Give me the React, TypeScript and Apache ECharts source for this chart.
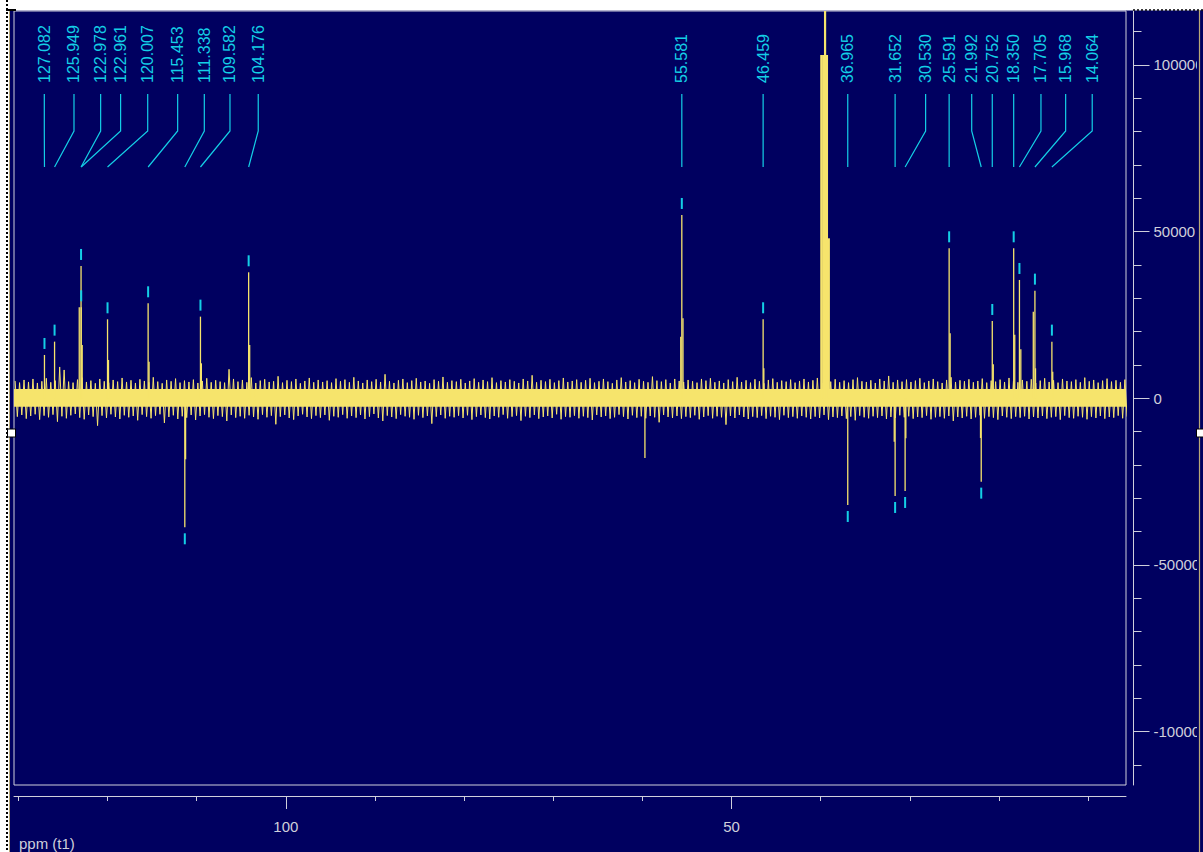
import React, { useEffect, useRef } from 'react';
import * as echarts from 'echarts';

// ---------- data ----------
// labelled peaks (ppm, intensity) and where the NMR program placed the label (ppm)
const PEAK_PPM = [127.082, 125.949, 122.978, 122.961, 120.007, 115.453, 111.338, 109.582, 104.176,
  55.581, 46.459, 36.965, 31.652, 30.530, 25.591, 21.992, 20.752, 18.350, 17.705, 15.968, 14.064];
const PEAK_INT = [13000, 17000, 39700, 27300, 23700, 28500, -38700, 24500, 37800,
  55000, 23700, -32000, -29300, -27800, 45000, -25000, 23200, 45000, 35500, 32300, 17000];
const LABEL_AT = [127.10, 123.77, 120.78, 118.54, 115.50, 112.14, 109.15, 106.27, 103.10,
  55.581, 46.459, 36.965, 31.652, 28.23, 25.591, 23.06, 20.752, 18.350, 15.29, 12.52, 9.54];

// unlabelled lines and peak shoulders
const OTHER_PPM = [123.18, 122.85, 119.90, 115.35, 111.25, 109.48, 104.06, 59.72, 55.70, 55.45, 46.38,
  31.75, 30.45, 25.48, 22.07, 20.64, 18.23, 17.55, 16.15, 15.90, 13.97];
const OTHER_INT = [27300, 16000, 11500, 11000, -18300, 10500, 16000, -17900, 18500, 24000, 9000,
  -13000, -12000, 19500, -11900, 10200, 19100, 14700, 26000, 9000, 8000];

// DMSO-d6 solvent multiplet
const SOLVENT_PPM = [39.93, 39.72, 39.51, 39.30, 39.09];
const SOLVENT_INT = [103000, 103000, 400000, 103000, 48000];

// baseline noise envelope (x100), sampled every 0.5 ppm from 130.25 ppm
const NOISE_START = 130.25;
const NOISE_STEP = 0.5;
const NOISE_HI = [
  52, 47, 55, 49, 58, 46, 51, 60, 48, 53, 94, 85, 50, 47, 56, 62, 49, 53, 45, 58, 51, 47, 55, 50, 61,
  49, 54, 46, 57, 52, 48, 63, 50, 45, 55, 51, 59, 47, 53, 49, 56, 46, 52, 60, 48, 54, 50, 47, 87, 58,
  50, 55, 48, 62, 46, 53, 57, 49, 51, 66, 47, 54, 50, 58, 45, 52, 61, 48, 55, 49, 53, 47, 59, 51, 56,
  48, 63, 52, 46, 55, 50, 57, 49, 72, 51, 46, 54, 58, 47, 53, 60, 49, 52, 45, 56, 51, 64, 48, 53, 50,
  57, 46, 52, 59, 48, 55, 50, 62, 47, 53, 49, 56, 51, 46, 58, 52, 69, 48, 54, 50, 57, 47, 53, 61, 49,
  52, 56, 48, 54, 60, 47, 51, 58, 50, 45, 55, 62, 49, 53, 47, 57, 51, 48, 65, 53, 50, 56, 46, 58, 52,
  49, 55, 51, 47, 58, 53, 60, 48, 52, 46, 56, 50, 63, 49, 54, 47, 57, 51, 45, 55, 59, 48, 53, 50, 56,
  47, 52, 58, 49, 54, 61, 46, 55, 50, 57, 48, 53, 47, 56, 62, 51, 49, 54, 46, 58, 52, 67, 48, 55, 50,
  56, 49, 53, 60, 47, 52, 58, 50, 46, 55, 63, 49, 54, 51, 57, 48, 52, 59, 47, 53, 50, 56, 49, 61, 52,
  48, 55, 51, 57, 46, 53, 60, 49, 54, 47, 58, 52, 50, 56, 48, 62, 51, 55, 47, 53, 59, 50, 54, 48, 56,
];
const NOISE_LO = [
  -55, -50, -61, -53, -48, -64, -52, -57, -49, -70, -54, -60, -51, -47, -58, -63, -50, -55, -82, -52, -59, -48, -56, -62, -51,
  -57, -53, -66, -49, -55, -60, -52, -48, -74, -56, -51, -62, -54, -58, -50, -65, -53, -49, -57, -61, -52, -55, -68, -50, -58,
  -54, -60, -51, -56, -63, -49, -57, -52, -78, -55, -50, -59, -64, -53, -48, -56, -61, -52, -58, -50, -66, -54, -57, -49, -60,
  -53, -58, -50, -62, -55, -47, -59, -68, -52, -56, -61, -49, -54, -57, -63, -51, -58, -53, -76, -55, -50, -60, -54, -57, -52,
  -59, -51, -64, -55, -50, -58, -62, -53, -57, -49, -60, -55, -52, -67, -54, -58, -50, -61, -56, -53, -59, -48, -63, -55, -57,
  -52, -60, -54, -58, -65, -50, -56, -53, -61, -57, -49, -55, -62, -51, -58, -54, -60, -53, -57, -72, -50, -56, -59, -53, -61,
  -55, -58, -51, -63, -56, -52, -60, -54, -57, -79, -53, -59, -50, -56, -62, -55, -58, -52, -61, -54, -57, -64, -51, -58, -55,
  -60, -53, -57, -62, -55, -59, -50, -64, -56, -58, -53, -61, -55, -66, -52, -57, -60, -54, -58, -53, -62, -56, -59, -51, -57,
  -54, -61, -56, -58, -52, -63, -57, -55, -60, -53, -68, -56, -59, -54, -62, -57, -51, -60, -55, -58, -64, -53, -57, -61, -55,
  -58, -54, -62, -56, -59, -53, -61, -57, -55, -64, -52, -58, -60, -54, -57, -63, -55, -59, -53, -61, -56, -58, -52, -60, -55,
];
const NOISE_CORE = [-2500, 2800];

// axes
const X_MIN = 5.75;
const X_MAX = 130.5;
const X_MINOR = [10, 20, 30, 40, 50, 60, 70, 80, 90, 100, 110, 120, 130];
const X_MAJOR = [50, 100];
const Y_MIN = -116010;
const Y_MAX = 116190;
const Y_MINOR = [-110000, -100000, -90000, -80000, -70000, -60000, -50000, -40000, -30000, -20000, -10000,
  0, 10000, 20000, 30000, 40000, 50000, 60000, 70000, 80000, 90000, 100000, 110000];
const Y_MAJOR = [-100000, -50000, 0, 50000, 100000];
const X_NAME = 'ppm (t1)';

// ---------- styles ----------
const BG = '#000060';
const YEL = '#f6e46c';
const CYAN = '#14cfe6';
const AX = '#cfcfdb';
const FONT = '"Liberation Sans", Arial, sans-serif';

export default function App() {
  const ref = useRef<HTMLDivElement>(null);

  useEffect(() => {
    const chart = echarts.init(ref.current as HTMLDivElement, undefined, { renderer: 'svg' });

    const noiseLine: number[][] = [];
    NOISE_HI.forEach((h, i) => {
      const p = NOISE_START - i * NOISE_STEP;
      noiseLine.push([p + NOISE_STEP / 4, h * 100]);
      noiseLine.push([p - NOISE_STEP / 4, NOISE_LO[i] * 100]);
    });

    const lines = [
      ...PEAK_PPM.map((p, i) => [p, PEAK_INT[i]]),
      ...OTHER_PPM.map((p, i) => [p, OTHER_INT[i]]),
    ];
    const solvent = SOLVENT_PPM.map((p, i) => [p, SOLVENT_INT[i]]);
    const labels = PEAK_PPM.map((p, i) => [p, LABEL_AT[i], PEAK_INT[i]]);

    const stick = (w: number) => (params: any, api: any) => {
      const b = api.coord([api.value(0), 0]);
      const t = api.coord([api.value(0), api.value(1)]);
      return {
        type: 'rect',
        shape: { x: b[0] - w / 2, y: Math.min(b[1], t[1]), width: w, height: Math.abs(t[1] - b[1]) },
        style: { fill: YEL },
      };
    };

    const plain = (v: number) => String(v);

    const xBase = {
      type: 'value', min: X_MIN, max: X_MAX, inverse: true, position: 'bottom', offset: 11,
      splitLine: { show: false },
    };
    const yBase = {
      type: 'value', min: Y_MIN, max: Y_MAX, position: 'right', offset: 7.5,
      splitLine: { show: false },
    };

    const option: any = {
      animation: false,
      backgroundColor: BG,
      grid: {
        left: 14, right: 77, top: 11, bottom: 67, containLabel: false, outerBoundsMode: 'none',
        show: true, borderColor: AX, borderWidth: 1, backgroundColor: 'transparent',
      },
      xAxis: [
        {
          ...xBase,
          axisLine: { show: true, onZero: false, lineStyle: { color: AX, width: 1 } },
          axisTick: { show: true, customValues: X_MINOR, length: 5, lineStyle: { color: AX, width: 1 } },
          axisLabel: { show: false },
        },
        {
          ...xBase,
          axisLine: { show: false, onZero: false },
          axisTick: { show: true, customValues: X_MAJOR, length: 13, lineStyle: { color: AX, width: 1 } },
          axisLabel: { show: true, customValues: X_MAJOR, formatter: plain, margin: 23, color: AX, fontSize: 15, fontFamily: FONT },
        },
      ],
      yAxis: [
        {
          ...yBase,
          axisLine: { show: true, onZero: false, lineStyle: { color: AX, width: 1 } },
          axisTick: { show: true, customValues: Y_MINOR, length: 8, lineStyle: { color: AX, width: 1 } },
          axisLabel: { show: false },
        },
        {
          ...yBase,
          axisLine: { show: false, onZero: false },
          axisTick: { show: true, customValues: Y_MAJOR, length: 16, lineStyle: { color: AX, width: 1 } },
          axisLabel: { show: true, customValues: Y_MAJOR, formatter: plain, margin: 20, color: AX, fontSize: 15, fontFamily: FONT, align: 'left' },
        },
      ],
      series: [
        {
          type: 'line', xAxisIndex: 0, yAxisIndex: 0, data: noiseLine, symbol: 'none', silent: true,
          lineStyle: { color: YEL, width: 1 }, z: 2,
          markArea: {
            silent: true, itemStyle: { color: YEL, opacity: 1 },
            data: [[{ xAxis: X_MAX, yAxis: NOISE_CORE[0] }, { xAxis: X_MIN, yAxis: NOISE_CORE[1] }]],
          },
        },
        { type: 'custom', xAxisIndex: 0, yAxisIndex: 0, clip: true, data: lines, renderItem: stick(1.3), silent: true, z: 3 },
        { type: 'custom', xAxisIndex: 0, yAxisIndex: 0, clip: true, data: solvent, renderItem: stick(2.2), silent: true, z: 3 },
        {
          type: 'custom', xAxisIndex: 0, yAxisIndex: 0, data: labels, silent: true, z: 4,
          renderItem: (params: any, api: any) => {
            const i = params.dataIndex;
            const v = api.value(2);
            const pk = api.coord([api.value(0), v]);
            const lx = api.coord([api.value(1), 0])[0];
            const px = pk[0];
            const my = v >= 0 ? pk[1] - 17 : pk[1] + 6;
            return {
              type: 'group',
              children: [
                {
                  type: 'text', x: lx, y: 83, rotation: Math.PI / 2,
                  style: { text: PEAK_PPM[i].toFixed(3), fill: CYAN, font: `16px ${FONT}`, align: 'left', verticalAlign: 'middle' },
                },
                {
                  type: 'polyline',
                  shape: { points: [[lx, 94], [lx, 131], [px, 167]] },
                  style: { stroke: CYAN, lineWidth: 1.2, fill: null },
                },
                { type: 'rect', shape: { x: px - 1, y: my, width: 2, height: 11 }, style: { fill: CYAN } },
              ],
            };
          },
        },
      ],
      graphic: [
        { type: 'rect', z: 100, shape: { x: 0, y: 0, width: 1203, height: 10.5 }, style: { fill: '#ffffff' } },
        { type: 'rect', z: 100, shape: { x: 0, y: 0, width: 10, height: 852 }, style: { fill: '#ffffff' } },
        { type: 'line', z: 101, shape: { x1: 7, y1: 0, x2: 7, y2: 852 }, style: { stroke: '#000', lineWidth: 2, lineDash: [2, 2] } },
        { type: 'line', z: 101, shape: { x1: 9.5, y1: 10, x2: 9.5, y2: 852 }, style: { stroke: '#b8a878', lineWidth: 1 } },
        { type: 'line', z: 101, shape: { x1: 1133, y1: 10, x2: 1203, y2: 10 }, style: { stroke: '#000', lineWidth: 1.5, lineDash: [2, 2] } },
        { type: 'rect', z: 101, shape: { x: 6, y: 9, width: 10, height: 2 }, style: { fill: '#000' } },
        { type: 'rect', z: 100, shape: { x: 1197, y: 10.5, width: 6, height: 842 }, style: { fill: BG } },
        { type: 'line', z: 101, shape: { x1: 1199.5, y1: 10, x2: 1199.5, y2: 852 }, style: { stroke: '#b8a878', lineWidth: 1.2 } },
        { type: 'rect', z: 102, shape: { x: 7.5, y: 429, width: 8, height: 8 }, style: { fill: '#fff', stroke: '#000', lineWidth: 1 } },
        { type: 'rect', z: 102, shape: { x: 1196.5, y: 429, width: 8, height: 8 }, style: { fill: '#fff', stroke: '#000', lineWidth: 1 } },
        { type: 'text', z: 101, x: 19, y: 843, style: { text: X_NAME, fill: AX, font: `15px ${FONT}`, align: 'left', verticalAlign: 'middle' } },
      ],
    };

    chart.setOption(option);
    return () => chart.dispose();
  }, []);

  return <div ref={ref} style={{ position: 'fixed', left: 0, top: 0, width: 1203, height: 852 }} />;
}
